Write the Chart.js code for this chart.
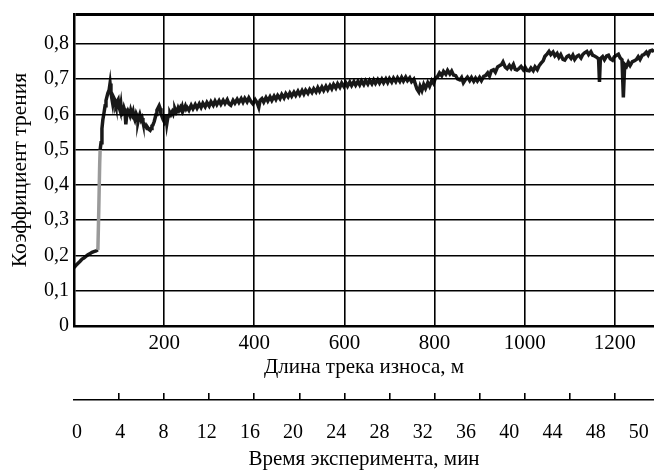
<!DOCTYPE html>
<html>
<head>
<meta charset="utf-8">
<script src="https://cdn.jsdelivr.net/npm/chart.js@4.4.1/dist/chart.umd.min.js"></script>
<style>
  body { margin: 0; background: #fff; }
</style>
</head>
<body>
<canvas id="frictionChart" width="654" height="471"></canvas>
<script>
// Коэффициент трения vs длина трека (м)
const distanceMax = 1287;
const distanceTicks = [0, 200, 400, 600, 800, 1000, 1200];
const timeMarkDistances = [100, 200, 300, 400, 500, 600, 700, 800, 900, 1000, 1100, 1200];
const timeTickValues = [0, 4, 8, 12, 16, 20, 24, 28, 32, 36, 40, 44, 48, 52];
const timeTickLabels = ['0', '4', '8', '12', '16', '20', '24', '28', '32', '36', '40', '44', '48', '50'];
const timeMin = -0.28, timeMax = 53.4;
const yMax = 0.885;
const yTicks = [0, 0.1, 0.2, 0.3, 0.4, 0.5, 0.6, 0.7, 0.8];
const yTickLabels = ['0', '0,1', '0,2', '0,3', '0,4', '0,5', '0,6', '0,7', '0,8'];
const jumpRange = [53, 58]; // grey vertical part of the trace

// [distance, coefficient]
const frictionTrace = [
  [0,0.165],[4,0.172],[9,0.178],[13,0.183],[18,0.19],[22,0.193],[27,0.198],[31,0.202],[36,0.206],[40,0.209],[44,0.211],[49,0.213],[53,0.216],
  [55,0.33],[57,0.46],[58,0.5],
  [60,0.52],[62,0.56],[64,0.585],[66,0.6],[69,0.625],[71,0.64],[73,0.65],[75,0.66],[78,0.67],[80,0.688],[82,0.662],[84,0.645],[86,0.63],[88,0.648],
  [91,0.64],[93,0.628],[95,0.635],[98,0.642],[100,0.62],[102,0.612],[104,0.628],[106,0.6],[109,0.604],[111,0.618],[113,0.61],[115,0.572],[117,0.598],
  [120,0.61],[122,0.605],[124,0.598],[126,0.612],[129,0.6],[131,0.608],[133,0.592],[135,0.585],[138,0.602],[140,0.596],[142,0.58],[144,0.592],
  [146,0.6],[149,0.585],[151,0.59],[153,0.578],[155,0.575],[158,0.568],[160,0.565],[162,0.56],[164,0.562],[166,0.558],[169,0.555],[171,0.56],
  [173,0.568],[175,0.57],[178,0.58],[180,0.59],[182,0.6],[184,0.612],[187,0.62],[189,0.625],[191,0.618],[193,0.602],[195,0.595],[198,0.585],
  [200,0.58],[202,0.592],[204,0.6],[206,0.574],[208,0.59],[211,0.598],[213,0.605],[215,0.6],[218,0.608],[220,0.602],[222,0.612],[224,0.616],
  [227,0.606],[229,0.61],[231,0.618],[233,0.612],[236,0.62],[238,0.614],[240,0.622],[242,0.61],[245,0.618],[247,0.624],[249,0.616],
  [251,0.62],[255,0.612],[260,0.626],[264,0.616],[269,0.628],[273,0.618],[278,0.63],[282,0.62],[286,0.632],[291,0.622],[295,0.634],[300,0.624],
  [304,0.636],[309,0.626],[313,0.638],[317,0.628],[322,0.639],[326,0.629],[331,0.64],[335,0.631],[340,0.642],[344,0.63],[348,0.626],[353,0.64],
  [357,0.632],[362,0.643],[366,0.634],[371,0.645],[375,0.635],[379,0.646],[384,0.636],[388,0.647],[393,0.636],[397,0.63],[402,0.642],[406,0.634],
  [410,0.62],[413,0.64],[417,0.645],[421,0.635],[426,0.648],[430,0.638],[435,0.65],[439,0.64],[444,0.652],[448,0.643],[452,0.654],[457,0.645],
  [461,0.657],[466,0.647],[470,0.659],[475,0.65],[479,0.661],[483,0.652],[488,0.663],[492,0.654],[497,0.666],[501,0.656],[506,0.668],[510,0.658],
  [514,0.669],[519,0.66],[523,0.671],[528,0.662],[532,0.673],[537,0.664],[541,0.676],[545,0.666],[550,0.678],[554,0.668],[559,0.68],[563,0.67],
  [568,0.682],[572,0.673],[576,0.685],[581,0.675],[585,0.687],[590,0.677],[594,0.689],[599,0.679],[603,0.69],[607,0.68],[612,0.692],[616,0.682],
  [621,0.693],[625,0.683],[630,0.694],[634,0.684],[638,0.695],[643,0.685],[647,0.696],[652,0.686],[656,0.697],[661,0.687],[665,0.698],[669,0.688],
  [674,0.699],[678,0.689],[683,0.7],[687,0.69],[692,0.701],[696,0.691],[700,0.702],[705,0.692],[709,0.703],[714,0.693],[718,0.704],[723,0.694],
  [727,0.705],[731,0.695],[736,0.706],[740,0.696],[745,0.704],[749,0.693],[754,0.7],[758,0.684],[761,0.672],[765,0.664],[768,0.68],[772,0.668],
  [776,0.685],[780,0.674],[785,0.69],[789,0.68],[794,0.696],[798,0.688],[802,0.704],[807,0.708],[811,0.718],[816,0.71],[820,0.722],[825,0.714],
  [829,0.725],[834,0.715],[838,0.723],[842,0.712],[847,0.71],[851,0.701],[856,0.698],[860,0.705],[864,0.69],[869,0.7],[873,0.706],[878,0.696],
  [882,0.705],[887,0.694],[891,0.703],[895,0.695],[900,0.705],[904,0.696],[909,0.708],[913,0.71],[918,0.718],[922,0.709],[926,0.724],[931,0.727],
  [935,0.72],[940,0.735],[944,0.738],[949,0.742],[952,0.749],[957,0.734],[961,0.73],[966,0.739],[970,0.731],[975,0.742],[979,0.728],[983,0.726],
  [988,0.731],[992,0.736],[997,0.727],[1001,0.734],[1005,0.725],[1010,0.724],[1014,0.732],[1019,0.724],[1023,0.735],[1028,0.727],[1032,0.738],
  [1036,0.745],[1041,0.752],[1045,0.765],[1050,0.772],[1054,0.779],[1058,0.77],[1063,0.777],[1067,0.766],[1072,0.773],[1076,0.762],[1080,0.77],
  [1085,0.756],[1089,0.754],[1094,0.764],[1098,0.767],[1103,0.759],[1107,0.768],[1111,0.756],[1116,0.765],[1120,0.768],[1125,0.76],[1129,0.77],
  [1133,0.775],[1138,0.779],[1142,0.77],[1147,0.778],[1151,0.768],[1155,0.766],[1160,0.762],[1164,0.758],[1166,0.692],[1168,0.758],[1173,0.764],
  [1177,0.755],[1182,0.766],[1186,0.768],[1190,0.758],[1195,0.754],[1199,0.764],[1204,0.768],[1208,0.771],[1212,0.76],[1216,0.755],[1219,0.648],
  [1222,0.742],[1226,0.736],[1230,0.748],[1234,0.739],[1239,0.75],[1243,0.752],[1248,0.756],[1252,0.764],[1256,0.756],[1261,0.768],[1265,0.77],
  [1270,0.777],[1274,0.769],[1278,0.78],[1283,0.782],[1287,0.778]
];

const serif = { family: '"Liberation Serif", "Times New Roman", serif', size: 20 };
const serifWide = { family: '"Liberation Serif", "Times New Roman", serif', size: 21 };
const serifTitleY = { family: '"Liberation Serif", "Times New Roman", serif', size: 21.5 };
Chart.defaults.color = '#000';

const setTicks = values => scale => { scale.ticks = values.map(v => ({ value: v })); };
// Chart.js counts tick padding twice and adds side padding for edge labels; pin the boxes instead
const fixBox = height => scale => { scale.height = height; scale.paddingLeft = 0; scale.paddingRight = 0; };

new Chart(document.getElementById('frictionChart'), {
  type: 'line',
  data: {
    datasets: [{
      data: frictionTrace,
      borderColor: 'rgba(0,0,0,0.9)',
      borderWidth: 3.5,
      pointRadius: 0,
      tension: 0,
      segment: {
        borderColor: c => (c.p0.parsed.x >= jumpRange[0] && c.p1.parsed.x <= jumpRange[1]) ? '#9a9a9a' : undefined
      },
      xAxisID: 'x',
      yAxisID: 'y'
    }]
  },
  options: {
    responsive: false,
    animation: false,
    layout: { padding: { top: 14, left: 0, right: 0, bottom: 0 } },
    plugins: { legend: { display: false }, tooltip: { enabled: false } },
    scales: {
      x: {
        type: 'linear', axis: 'x', position: 'bottom', weight: 0,
        min: 0, max: distanceMax,
        afterBuildTicks: setTicks(distanceTicks),
        afterFit: fixBox(67),
        ticks: { autoSkip: false, maxRotation: 0, padding: 5, font: serifWide,
                 callback: v => v > 0 ? String(v) : '' },
        grid: { color: '#000', lineWidth: 1.6, drawTicks: false },
        border: { color: '#000', width: 2.5 },
        title: { display: true, text: 'Длина трека износа, м', font: serifWide, padding: { top: 1, bottom: 13 } }
      },
      xMarks: {
        type: 'linear', axis: 'x', position: 'bottom', weight: 1,
        min: 0, max: distanceMax,
        afterBuildTicks: setTicks(timeMarkDistances),
        ticks: { display: false },
        grid: { drawOnChartArea: false, drawTicks: true, tickLength: 7, color: '#000', lineWidth: 1.6 },
        border: { display: false }
      },
      xTime: {
        type: 'linear', axis: 'x', position: 'bottom', weight: 2,
        min: timeMin, max: timeMax,
        afterBuildTicks: setTicks(timeTickValues),
        afterFit: fixBox(71),
        ticks: { autoSkip: false, maxRotation: 0, padding: 21, font: serif,
                 callback: (v, i) => timeTickLabels[i] },
        grid: { display: false, drawTicks: false },
        border: { display: true, color: '#000', width: 1.6 },
        title: { display: true, text: 'Время эксперимента, мин', font: { ...serifWide, lineHeight: 1.1 }, padding: { top: 5, bottom: 0 } }
      },
      y: {
        type: 'linear', position: 'left',
        min: 0, max: yMax,
        afterBuildTicks: setTicks(yTicks.concat([yMax])),
        afterFit: scale => { scale.width = 74; scale.paddingTop = 0; scale.paddingBottom = 0; },
        ticks: { padding: 5, font: serif, callback: (v, i) => yTickLabels[i] || '' },
        grid: { color: '#000', lineWidth: c => c.tick && c.tick.value >= yMax ? 3 : 1.6, drawTicks: false },
        border: { color: '#000', width: 2.5 },
        title: { display: true, text: 'Коэффициент трения', font: serifTitleY, padding: { top: 7, bottom: 12 } }
      }
    }
  }
});
</script>
</body>
</html>
